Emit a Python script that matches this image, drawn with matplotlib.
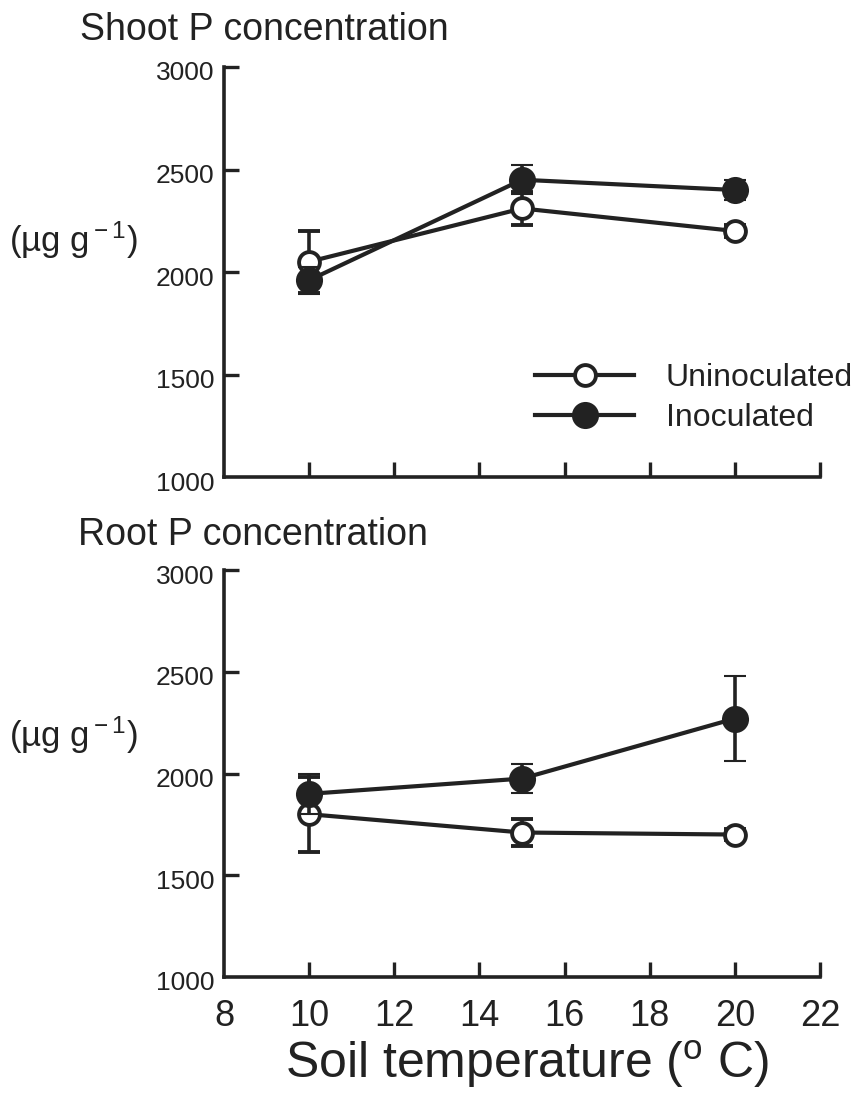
import matplotlib
matplotlib.use("Agg")
import matplotlib.pyplot as plt
from matplotlib.lines import Line2D
from matplotlib.transforms import ScaledTranslation

plt.rcParams['font.family'] = ['Liberation Sans', 'DejaVu Sans']
plt.rcParams['mathtext.fontset'] = 'custom'
plt.rcParams['mathtext.rm'] = 'Liberation Sans'
plt.rcParams['mathtext.it'] = 'Liberation Sans'

# Soil temperatures (deg C)
temperature = [10, 15, 20]

# Shoot P concentration (ug g-1), mean and SE
shoot_uninoc = [2050, 2310, 2200]
shoot_uninoc_err = [150, 80, 30]
shoot_inoc = [1960, 2450, 2400]
shoot_inoc_err = [65, 70, 50]

# Root P concentration (ug g-1), mean and SE
root_uninoc = [1800, 1710, 1700]
root_uninoc_err = [185, 65, 25]
root_inoc = [1900, 1975, 2270]
root_inoc_err = [100, 70, 210]

x_ticks = [8, 10, 12, 14, 16, 18, 20, 22]
y_ticks = [1000, 1500, 2000, 2500, 3000]

INK = '#222222'
W, H = 864, 1103
fig = plt.figure(figsize=(W / 100, H / 100), dpi=100)

OPEN = dict(marker='o', ms=15, mfc='white', mec=INK, mew=2.8)
FILLED = dict(marker='o', ms=18, mfc=INK, mec=INK, mew=1.5)


def frac(x0, y0, x1, y1):
    return [x0 / W, 1 - y1 / H, (x1 - x0) / W, (y1 - y0) / H]


def panel(rect, unin, unin_e, ino, ino_e, show_xlabels):
    ax = fig.add_axes(rect)
    ax.set_xlim(8, 22)
    ax.set_ylim(1000, 3000)
    for s in ('top', 'right'):
        ax.spines[s].set_visible(False)
    for s in ('left', 'bottom'):
        ax.spines[s].set_linewidth(2.6)
        ax.spines[s].set_color(INK)
    ax.set_xticks(x_ticks)
    ax.set_yticks(y_ticks)
    ax.tick_params(axis='both', direction='in', length=11, width=2.4, color=INK)
    ax.tick_params(axis='y', labelsize=19, pad=7, labelcolor=INK)
    if show_xlabels:
        ax.tick_params(axis='x', labelsize=26, pad=16, labelcolor=INK)
    else:
        ax.tick_params(axis='x', labelbottom=False)
    # no tick marks at the corner
    ax.xaxis.get_major_ticks()[0].tick1line.set_visible(False)
    ax.yaxis.get_major_ticks()[0].tick1line.set_visible(False)
    # y tick labels sit a little below their ticks
    shift = ScaledTranslation(0, -4 / 100, fig.dpi_scale_trans)
    for lbl in ax.get_yticklabels():
        lbl.set_transform(lbl.get_transform() + shift)

    ax.errorbar(temperature, unin, yerr=unin_e, color=INK, lw=3, capsize=8,
                capthick=2.6, elinewidth=2.6, zorder=3, **OPEN)
    ax.errorbar(temperature, ino, yerr=ino_e, color=INK, lw=3, capsize=8,
                capthick=2.6, elinewidth=2.6, zorder=4, **FILLED)
    return ax


ax1 = panel(frac(224, 67, 820, 477), shoot_uninoc, shoot_uninoc_err,
            shoot_inoc, shoot_inoc_err, False)
ax2 = panel(frac(224, 570, 820, 977), root_uninoc, root_uninoc_err,
            root_inoc, root_inoc_err, True)

fig.text(80 / W, 1 - 30 / H, 'Shoot P concentration', fontsize=27,
         color=INK, va='center', ha='left')
fig.text(78 / W, 1 - 535 / H, 'Root P concentration', fontsize=27,
         color=INK, va='center', ha='left')
for yc in (240, 735):
    fig.text(9 / W, 1 - yc / H, '(\u00b5g g$^{\\rm -1}$)', fontsize=25,
             color=INK, va='center', ha='left')

fig.text(527 / W, 1 - 1064 / H, 'Soil temperature ($^{\\rm o}$ C)', fontsize=36,
         color=INK, va='center', ha='center')

handles = [Line2D([], [], color=INK, lw=3, label='Uninoculated', **OPEN),
           Line2D([], [], color=INK, lw=3, label='Inoculated', **FILLED)]
leg = ax1.legend(handles=handles, loc='center left',
                 bbox_to_anchor=((535 - 224) / 596, (477 - 398) / 410),
                 frameon=False, fontsize=23, handlelength=3.1,
                 handletextpad=1.0, labelspacing=0.3, borderpad=0,
                 borderaxespad=0, numpoints=1)
for t in leg.get_texts():
    t.set_color(INK)

fig.savefig('out.png', dpi=100, facecolor='white')
